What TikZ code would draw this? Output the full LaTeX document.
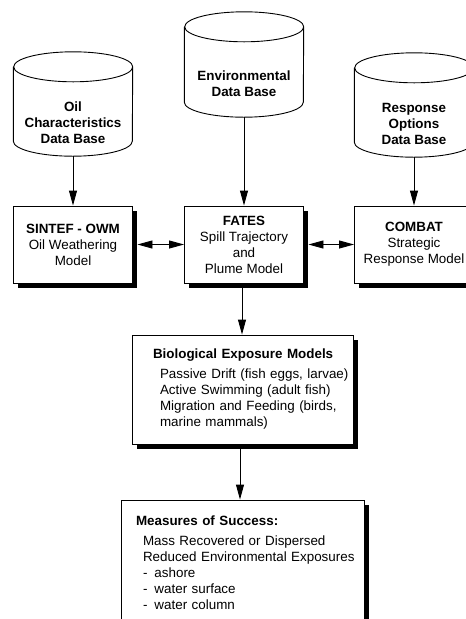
\documentclass[tikz,border=0pt]{standalone}
\usepackage{fontspec}
\setmainfont{Liberation Sans}
\usetikzlibrary{shadows,arrows.meta}

\begin{document}
\begin{tikzpicture}[x=1pt,y=-1pt,
  >={Triangle[length=15pt,width=8pt]},
  database/.style={minimum width=119pt, minimum height=104pt},
  dbtext/.style={align=center, font=\fontsize{13.4}{16}\selectfont\bfseries, yshift=-19pt},
  model/.style={draw, fill=white, line width=0.9pt, minimum width=119pt, minimum height=77pt,
    align=center, font=\fontsize{13.4}{16}\selectfont,
    drop shadow={fill=black, opacity=1, shadow xshift=4.5pt, shadow yshift=-4.5pt}},
  flow/.style={line width=0.9pt}]
  \useasboundingbox (0,0) rectangle (466,619);

  % Data bases
  \node[database, label={[dbtext]center:Oil\\Characteristics\\Data Base}] (oilDB) at (73,104) {};
  \node[database, minimum height=105pt, label={[dbtext]center:Environmental\\Data Base}] (envDB) at (244,64.5) {};
  \node[database, label={[dbtext]center:Response\\Options\\Data Base}] (respDB) at (414,105) {};
  \foreach \db in {oilDB,envDB,respDB}
    \draw[flow] ([yshift=-15pt]\db.north west) -- ([yshift=15pt]\db.south west)
      arc[start angle=180, end angle=360, x radius=59.5pt, y radius=15pt]
      -- ([yshift=-15pt]\db.north east)
      arc[start angle=0, end angle=360, x radius=59.5pt, y radius=15pt];

  % Models
  \node[model] (owm) at (73,244.5) {\textbf{SINTEF - OWM}\\Oil Weathering\\Model};
  \node[model] (fates) at (244,244.5) {\textbf{FATES}\\Spill Trajectory\\and\\Plume Model};
  \node[model] (combat) at (414,244.5) {\textbf{COMBAT}\\Strategic\\Response Model};

  \node[model, minimum width=216pt, minimum height=109pt, text width=214pt, align=left] (bio) at (243,389.5)
    {\hspace*{17pt}\textbf{Biological Exposure Models}\\[4pt]
     \hspace*{24pt}Passive Drift (fish eggs, larvae)\\
     \hspace*{24pt}Active Swimming (adult fish)\\
     \hspace*{24pt}Migration and Feeding (birds,\\
     \hspace*{24pt}marine mammals)};

  \node[model, minimum width=243pt, minimum height=126pt, text width=232pt, align=left] (success) at (242.5,563)
    {\hspace*{9.5pt}\textbf{Measures of Success:}\\[4pt]
     \hspace*{16.5pt}Mass Recovered or Dispersed\\
     \hspace*{16.5pt}Reduced Environmental Exposures\\
     \hspace*{16.5pt}-\hspace{7pt}ashore\\
     \hspace*{16.5pt}-\hspace{7pt}water surface\\
     \hspace*{16.5pt}-\hspace{7pt}water column};

  \draw[flow,->] (oilDB.south) -- (owm.north);
  \draw[flow,->] (envDB.south) -- (fates.north);
  \draw[flow,->] (respDB.south) -- (combat.north);
  \draw[flow,<->] ([xshift=4.5pt]owm.east) -- (fates.west);
  \draw[flow,<->] ([xshift=4.5pt]fates.east) -- (combat.west);
  \draw[flow,->] ([xshift=-2pt]fates.south) -- ([xshift=-1pt]bio.north);
  \draw[flow,->] ([xshift=-3pt]bio.south) -- ([xshift=-2.5pt]success.north);
\end{tikzpicture}
\end{document}
